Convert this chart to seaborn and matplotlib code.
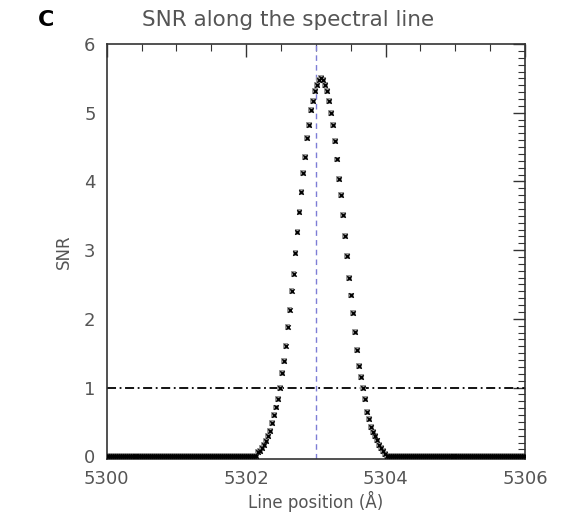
import numpy as np
import pandas as pd
import matplotlib
matplotlib.use("Agg")
import matplotlib.pyplot as plt
from matplotlib.ticker import MultipleLocator
import seaborn as sns

# wavelength sampling of the profile (Angstrom)
lam_start = 5300.0
lam_step = 0.0285
n_samples = 211

# SNR: flat baseline, the peak, flat baseline
snr_left_base = [0.0] * 76
snr_peak = [
    0.06, 0.08, 0.12, 0.16, 0.22, 0.29, 0.37, 0.48, 0.60, 0.71,
    0.83, 0.99, 1.21, 1.39, 1.60, 1.88, 2.13, 2.40, 2.65, 2.96,
    3.26, 3.55, 3.84, 4.12, 4.36, 4.63, 4.82, 5.04, 5.17, 5.31,
    5.41, 5.48, 5.50, 5.48,
    5.41, 5.31, 5.17, 5.00, 4.82, 4.59, 4.32, 4.04, 3.80, 3.51,
    3.20, 2.91, 2.59, 2.34, 2.08, 1.81, 1.55, 1.32, 1.16, 0.99,
    0.83, 0.65, 0.54, 0.43, 0.35, 0.29, 0.23, 0.17, 0.12, 0.07,
    0.03,
]
snr_right_base = [0.0] * 70

line_center = 5303.0
snr_threshold = 1.0

lam = lam_start + lam_step * np.arange(n_samples)
snr = snr_left_base + snr_peak + snr_right_base
df = pd.DataFrame({"lam": lam, "snr": snr})

sns.set_style("white")
plt.rcParams["font.family"] = ["DejaVu Sans"]

fig = plt.figure(figsize=(5.72, 5.21), dpi=100)
ax = fig.add_axes([0.1865, 0.119, 0.7315, 0.7965])

ax.axvline(line_center, color="#7d7dd6", lw=1.0, ls=(0, (4, 3)), zorder=1)
ax.axhline(snr_threshold, color="black", lw=1.3, ls=(0, (5, 2, 1, 2)), zorder=1)

sns.scatterplot(data=df, x="lam", y="snr", ax=ax, marker="s", s=18,
                color="#9a9a9a", edgecolor="none", zorder=2)
sns.scatterplot(data=df, x="lam", y="snr", ax=ax, marker="x", s=10,
                color="black", linewidth=1.0, zorder=3)

ax.set_xlim(5300, 5306)
ax.set_ylim(-0.04, 6)
ax.xaxis.set_major_locator(MultipleLocator(2))
ax.xaxis.set_minor_locator(MultipleLocator(0.5))
ax.yaxis.set_major_locator(MultipleLocator(1))
ax.yaxis.set_minor_locator(MultipleLocator(0.1))
ax.tick_params(which="both", direction="in", top=True, right=True,
               color="#333333", labelcolor="#555555", labelsize=13)
ax.tick_params(which="major", length=9, width=1.0, pad=8)
ax.tick_params(which="minor", length=5, width=0.8)

for sp in ax.spines.values():
    sp.set_color("#333333")
    sp.set_linewidth(1.2)

ax.set_xlabel("Line position (Å)", fontsize=12, color="#555555", labelpad=2)
ax.set_ylabel("SNR", fontsize=12, color="#555555", labelpad=8)
fig.text(0.503, 0.962, "SNR along the spectral line", fontsize=15.5,
         color="#555555", ha="center", va="center")
fig.text(0.066, 0.962, "C", fontsize=16, fontweight="bold", color="black",
         family=["DejaVu Sans"], ha="left", va="center")

fig.savefig("out.png", dpi=100)
